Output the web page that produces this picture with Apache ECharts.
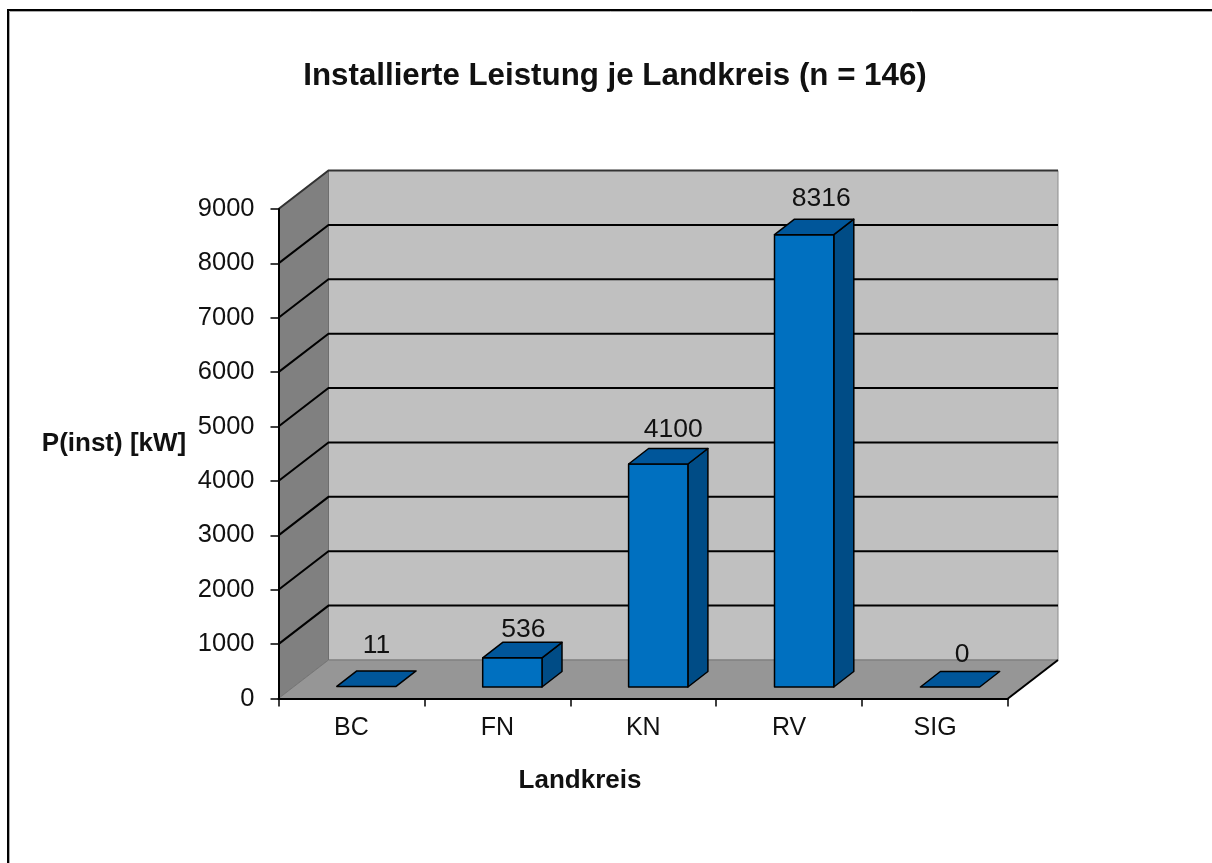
<!DOCTYPE html>
<html>
<head>
<meta charset="utf-8">
<title>Installierte Leistung je Landkreis</title>
<script src="https://cdn.jsdelivr.net/npm/echarts@6/dist/echarts.min.js"></script>
<style>
  html, body { margin: 0; padding: 0; background: #fff; }
  #chart { width: 1212px; height: 863px; }
</style>
</head>
<body>
<div id="chart"></div>
<script>
var categories = ['BC', 'FN', 'KN', 'RV', 'SIG'];
var values = [11, 536, 4100, 8316, 0];
var yTicks = [0, 1000, 2000, 3000, 4000, 5000, 6000, 7000, 8000, 9000];

var fontName = '"Liberation Sans", Arial, sans-serif';
var textColor = '#111';
// Tiefe des Diagramms (Pixel)
var depthX = 50, depthY = 38.5;
// Saeulen stehen etwas hinter der Vorderkante
var barShiftX = 15, barShiftY = 11.5, barDepthX = 20, barDepthY = 15.5, barWidth = 59.3;
// Versatz der Beschriftung, im Original je Saeule verschieden
var labelLift = [25, 13, 19, 21, 17];
var labelShift = [0, 1, 5, 7, 2];

function poly(points, fill, stroke, lineWidth) {
  return {
    type: 'polygon',
    shape: { points: points },
    style: { fill: fill, stroke: stroke || null, lineWidth: lineWidth || 0, lineJoin: 'round' }
  };
}

function renderWalls(params, api) {
  var c = params.coordSys;
  var x0 = c.x, x1 = c.x + c.width, yT = c.y, yB = c.y + c.height;
  return {
    type: 'group',
    children: [
      // Rueckwand
      poly([[x0 + depthX, yT - depthY], [x1 + depthX, yT - depthY], [x1 + depthX, yB - depthY], [x0 + depthX, yB - depthY]], '#c0c0c0', '#8c8c8c', 1),
      // linke Wand
      poly([[x0, yT], [x0 + depthX, yT - depthY], [x0 + depthX, yB - depthY], [x0, yB]], '#808080', '#6e6e6e', 1),
      // Boden
      poly([[x0, yB], [x1, yB], [x1 + depthX, yB - depthY], [x0 + depthX, yB - depthY]], '#969696', '#777777', 1),
      {
        type: 'line',
        shape: { x1: x1, y1: yB, x2: x1 + depthX, y2: yB - depthY },
        style: { stroke: '#000', lineWidth: 2 }
      }
    ]
  };
}

function renderGridLine(params, api) {
  var c = params.coordSys;
  var y = api.coord([0, api.value(0)])[1];
  return {
    type: 'polyline',
    shape: { points: [[c.x, y], [c.x + depthX, y - depthY], [c.x + c.width + depthX, y - depthY]] },
    style: { fill: null, stroke: api.value(0) === 9000 ? '#333' : '#000', lineWidth: 2 }
  };
}

function renderBar(params, api) {
  var i = api.value(0);
  var v = api.value(1);
  var center = api.coord([i, 0])[0];
  var base = api.coord([i, 0])[1] - barShiftY;
  var top = api.coord([i, v])[1] - barShiftY;
  var l = center + barShiftX - barWidth / 2;
  var r = l + barWidth;
  var line = '#000';
  var children = [];
  if (base - top > 1) {
    children.push(poly([[r, top], [r + barDepthX, top - barDepthY], [r + barDepthX, base - barDepthY], [r, base]], '#004c86', line, 1.5));
    children.push(poly([[l, top], [r, top], [r, base], [l, base]], '#0070c0', line, 1.5));
  }
  children.push(poly([[l, top], [l + barDepthX, top - barDepthY], [r + barDepthX, top - barDepthY], [r, top]], '#00569a', line, 1.5));
  children.push({
    type: 'text',
    style: {
      x: center + barShiftX + barDepthX / 2 + labelShift[i],
      y: top - barDepthY - labelLift[i],
      text: String(v),
      fill: textColor,
      font: '26.5px ' + fontName,
      align: 'center',
      verticalAlign: 'middle'
    }
  });
  return { type: 'group', children: children };
}

var chart = echarts.init(document.getElementById('chart'));

chart.setOption({
  animation: false,
  backgroundColor: '#fff',
  title: [
    { text: 'Installierte Leistung je Landkreis (n = 146)', left: 610, top: 71, textAlign: 'center', textVerticalAlign: 'middle',
      textStyle: { fontFamily: fontName, fontSize: 31.3, fontWeight: 'bold', color: textColor } },
    { text: 'P(inst) [kW]', left: 109, top: 439, textAlign: 'center', textVerticalAlign: 'middle',
      textStyle: { fontFamily: fontName, fontSize: 26, fontWeight: 'bold', color: textColor } },
    { text: 'Landkreis', left: 575, top: 776, textAlign: 'center', textVerticalAlign: 'middle',
      textStyle: { fontFamily: fontName, fontSize: 26, fontWeight: 'bold', color: textColor } }
  ],
  grid: { left: 278.5, right: 204, top: 209, bottom: 164.5 },
  xAxis: {
    type: 'category',
    data: categories,
    z: 5,
    axisLine: { lineStyle: { color: '#000', width: 2 } },
    axisTick: { show: true, alignWithLabel: false, length: 8, lineStyle: { color: '#000', width: 1.5 } },
    axisLabel: { fontFamily: fontName, fontSize: 25, color: textColor, margin: 17 },
    splitLine: { show: false }
  },
  yAxis: {
    type: 'value',
    min: 0,
    max: 9000,
    interval: 1000,
    z: 5,
    axisLine: { show: true, lineStyle: { color: '#000', width: 2 } },
    axisTick: { show: true, length: 8, lineStyle: { color: '#000', width: 1.5 } },
    axisLabel: { fontFamily: fontName, fontSize: 25.5, color: textColor, margin: 24, formatter: function (v) { return String(v); } },
    splitLine: { show: false }
  },
  graphic: [
    { type: 'polyline', shape: { points: [[9.5, 863], [9.5, 11.5], [1212, 11.5]] }, style: { fill: null, stroke: '#aaaaaa', lineWidth: 1 } },
    { type: 'polyline', shape: { points: [[8, 863], [8, 10], [1212, 10]] }, style: { fill: null, stroke: '#000', lineWidth: 2 } }
  ],
  series: [
    { type: 'custom', z: 1, silent: true, data: [[0]], renderItem: renderWalls },
    { type: 'custom', z: 2, silent: true, data: yTicks.filter(function (t) { return t > 0; }).map(function (t) { return [t]; }), encode: { y: 0 }, renderItem: renderGridLine },
    { type: 'custom', z: 3, data: categories.map(function (c, i) { return [i, values[i]]; }), encode: { x: 0, y: 1 }, renderItem: renderBar }
  ]
});
</script>
</body>
</html>
